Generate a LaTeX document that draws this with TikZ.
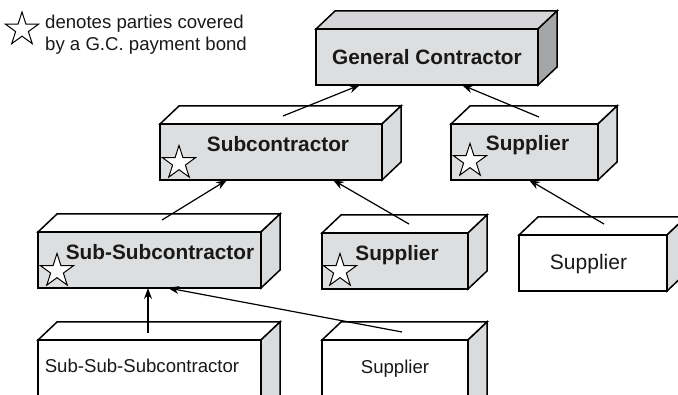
\documentclass[tikz,border=0pt]{standalone}
\usepackage{fontspec}
\setmainfont{Liberation Sans}
\usetikzlibrary{shapes.geometric,arrows.meta}

\definecolor{facegray}{RGB}{221,222,223}
\definecolor{gctop}{RGB}{214,214,216}
\definecolor{gcside}{RGB}{165,166,168}
\definecolor{sidegray}{RGB}{218,219,220}

% top and right faces of a cuboid whose front face is node #1
\newcommand\boxdepth[3]{%
  \filldraw[boxline, fill=#2] (#1.north west) -- ++(19,-18)
    -- ([shift={(19,-18)}]#1.north east) -- (#1.north east) -- cycle;
  \filldraw[boxline, fill=#3] (#1.north east) -- ++(19,-18)
    -- ([shift={(19,-18)}]#1.south east) -- (#1.south east) -- cycle;}

\tikzset{
  boxline/.style={draw=black, line width=1.5pt, line join=miter},
  front/.style={boxline, rectangle, anchor=north west, inner sep=0pt, outer sep=0pt},
  graybox/.style={front, fill=facegray},
  whitebox/.style={front, fill=white},
  boldlabel/.style={anchor=base, inner sep=0pt, font=\fontsize{20.8}{24}\selectfont\bfseries, text=black!90},
  plainlabel/.style={anchor=base, inner sep=0pt, font=\fontsize{18.6}{22}\selectfont, text=black!90},
  bigplain/.style={anchor=base, inner sep=0pt, font=\fontsize{21}{24}\selectfont, text=black!90},
  bondstar/.style={star, star points=5, star point ratio=2.618, minimum size=35pt,
    inner sep=0pt, outer sep=0pt, draw=black, line width=1pt, fill=white},
  link/.style={line width=1.2pt, -{Stealth[length=11pt,width=8pt]}},
}

\begin{document}
\begin{tikzpicture}[x=1pt, y=-1pt]
\useasboundingbox (0,0) rectangle (678,395);
\clip (0,0) rectangle (678,395);

% legend
\node[bondstar, fill=none] (legstar) at (22,29.5) {};
\node[plainlabel, anchor=base west] (leg1) at (45,29) {denotes parties covered};
\node[plainlabel, anchor=base west] (leg2) at (45,51) {by a G.C. payment bond};

% general contractor
\node[graybox, minimum width=222pt, minimum height=56pt] (gc) at (316,29) {};
\boxdepth{gc}{gctop}{gcside}
\node[boldlabel] (gct) at (427,65) {General Contractor};

% second tier
\node[graybox, minimum width=222pt, minimum height=56pt] (sub) at (160,124) {};
\boxdepth{sub}{white}{sidegray}
\node[boldlabel] (subt) at (278,152) {Subcontractor};
\node[bondstar] (subs) at (179,163) {};

\node[graybox, minimum width=147pt, minimum height=56pt] (sup1) at (451,124) {};
\boxdepth{sup1}{white}{sidegray}
\node[boldlabel] (sup1t) at (527.5,151) {Supplier};
\node[bondstar] (sup1s) at (470,161) {};

% third tier
\node[graybox, minimum width=223pt, minimum height=56pt] (ssub) at (38,232) {};
\boxdepth{ssub}{white}{sidegray}
\node[boldlabel] (ssubt) at (160,260) {Sub-Subcontractor};
\node[bondstar] (ssubs) at (57,271) {};

\node[graybox, minimum width=146pt, minimum height=56pt] (sup2) at (322,233) {};
\boxdepth{sup2}{white}{sidegray}
\node[boldlabel] (sup2t) at (397,261) {Supplier};
\node[bondstar] (sup2s) at (340,271) {};

\node[whitebox, minimum width=148pt, minimum height=56pt] (sup3) at (519,235) {};
\boxdepth{sup3}{white}{sidegray}
\node[bigplain] (sup3t) at (588.5,270) {Supplier};

% fourth tier
\node[whitebox, minimum width=223pt, minimum height=80pt] (sss) at (38,340) {};
\boxdepth{sss}{white}{sidegray}
\node[plainlabel] (ssst) at (142,373) {Sub-Sub-Subcontractor};

\node[whitebox, minimum width=146pt, minimum height=80pt] (sup4) at (322,340) {};
\boxdepth{sup4}{white}{sidegray}
\node[plainlabel] (sup4t) at (395,374) {Supplier};

% connector ends on the top faces and bottom edges
\coordinate (subtail)  at ([shift={(123,-8)}]sub.north west);
\coordinate (gchead1)  at ([xshift=44pt]gc.south west);
\coordinate (sup1tail) at ([shift={(88,-7)}]sup1.north west);
\coordinate (gchead2)  at ([xshift=146pt]gc.south west);
\coordinate (ssubtail) at ([shift={(124,-12)}]ssub.north west);
\coordinate (subhead1) at ([xshift=67pt]sub.south west);
\coordinate (sup2tail) at ([shift={(87,-9)}]sup2.north west);
\coordinate (subhead2) at ([xshift=173pt]sub.south west);
\coordinate (sup3tail) at ([shift={(85,-11)}]sup3.north west);
\coordinate (sup1head) at ([xshift=78pt]sup1.south west);
\coordinate (ssstail)  at ([shift={(110,-7)}]sss.north west);
\coordinate (ssubhead1) at ([xshift=110pt]ssub.south west);
\coordinate (sup4tail) at ([shift={(80,-8)}]sup4.north west);
\coordinate (ssubhead2) at ([xshift=130pt]ssub.south west);

% payment chain
\draw[link] (subtail) -- (gchead1);
\draw[link] (sup1tail) -- (gchead2);
\draw[link] (ssubtail) -- (subhead1);
\draw[link] (sup2tail) -- (subhead2);
\draw[link] (sup3tail) -- (sup1head);
\draw[link] (ssstail) -- (ssubhead1);
\draw[link] (sup4tail) -- (ssubhead2);
\end{tikzpicture}
\end{document}
